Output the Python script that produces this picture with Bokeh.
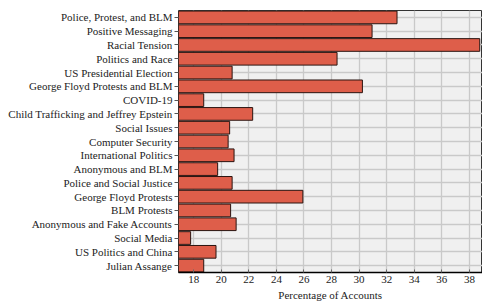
from bokeh.plotting import figure
from bokeh.models import FactorRange, Range1d, FixedTicker, ColumnDataSource
from bokeh.embed import file_html
from bokeh.resources import INLINE

topics = [
    "Police, Protest, and BLM",
    "Positive Messaging",
    "Racial Tension",
    "Politics and Race",
    "US Presidential Election",
    "George Floyd Protests and BLM",
    "COVID-19",
    "Child Trafficking and Jeffrey Epstein",
    "Social Issues",
    "Computer Security",
    "International Politics",
    "Anonymous and BLM",
    "Police and Social Justice",
    "George Floyd Protests",
    "BLM Protests",
    "Anonymous and Fake Accounts",
    "Social Media",
    "US Politics and China",
    "Julian Assange",
]
values = [32.75, 30.94, 38.75, 28.4, 20.79, 30.24, 18.73, 22.28, 20.61, 20.5,
          20.93, 19.74, 20.79, 25.92, 20.68, 21.08, 17.78, 19.62, 18.73]
x_ticks = [18, 20, 22, 24, 26, 28, 30, 32, 34, 36, 38]

FONT = "Liberation Serif"

src = ColumnDataSource(dict(topic=topics, value=values))

p = figure(
    width=482, height=303,
    y_range=FactorRange(factors=list(reversed(topics)), range_padding=0),
    x_range=Range1d(16.9, 38.95),
    output_backend="svg", toolbar_location=None,
    min_border_left=178, min_border_right=0, min_border_top=10, min_border_bottom=0,
)
p.hbar(y="topic", left=0, right="value", height=0.92, source=src,
       fill_color="#de5e4a", line_color="#2a1410", line_width=1)

p.background_fill_color = "#f0f0f0"
p.border_fill_color = "white"
p.outline_line_color = "#333333"
p.outline_line_width = 1

p.xgrid.grid_line_color = "#c9c9c9"
p.xgrid.grid_line_width = 1.3
p.ygrid.grid_line_color = "#c9c9c9"
p.ygrid.grid_line_width = 1.3
p.xgrid.level = "underlay"
p.ygrid.level = "underlay"

p.xaxis.ticker = FixedTicker(ticks=x_ticks)
p.xaxis.axis_label = "Percentage of Accounts"
p.xaxis.axis_label_text_font = FONT
p.xaxis.axis_label_text_font_style = "normal"
p.xaxis.axis_label_text_font_size = "11px"
p.xaxis.axis_label_text_color = "#222222"
p.xaxis.axis_label_standoff = 3
p.xaxis.major_label_text_font = FONT
p.xaxis.major_label_text_font_size = "11px"
p.xaxis.major_label_text_color = "#222222"
p.xaxis.major_label_standoff = 3
p.xaxis.axis_line_color = "black"
p.xaxis.axis_line_width = 1.5
p.xaxis.major_tick_in = 3
p.xaxis.major_tick_out = 0
p.xaxis.major_tick_line_color = "#666666"
p.xaxis.minor_tick_line_color = None

p.yaxis.major_label_text_font = FONT
p.yaxis.major_label_text_font_size = "11px"
p.yaxis.major_label_text_color = "#222222"
p.yaxis.major_label_standoff = 2
p.yaxis.axis_line_color = None
p.yaxis.major_tick_out = 4
p.yaxis.major_tick_in = 0
p.yaxis.major_tick_line_color = "#555555"

open("out.html", "w").write(file_html(p, INLINE))
